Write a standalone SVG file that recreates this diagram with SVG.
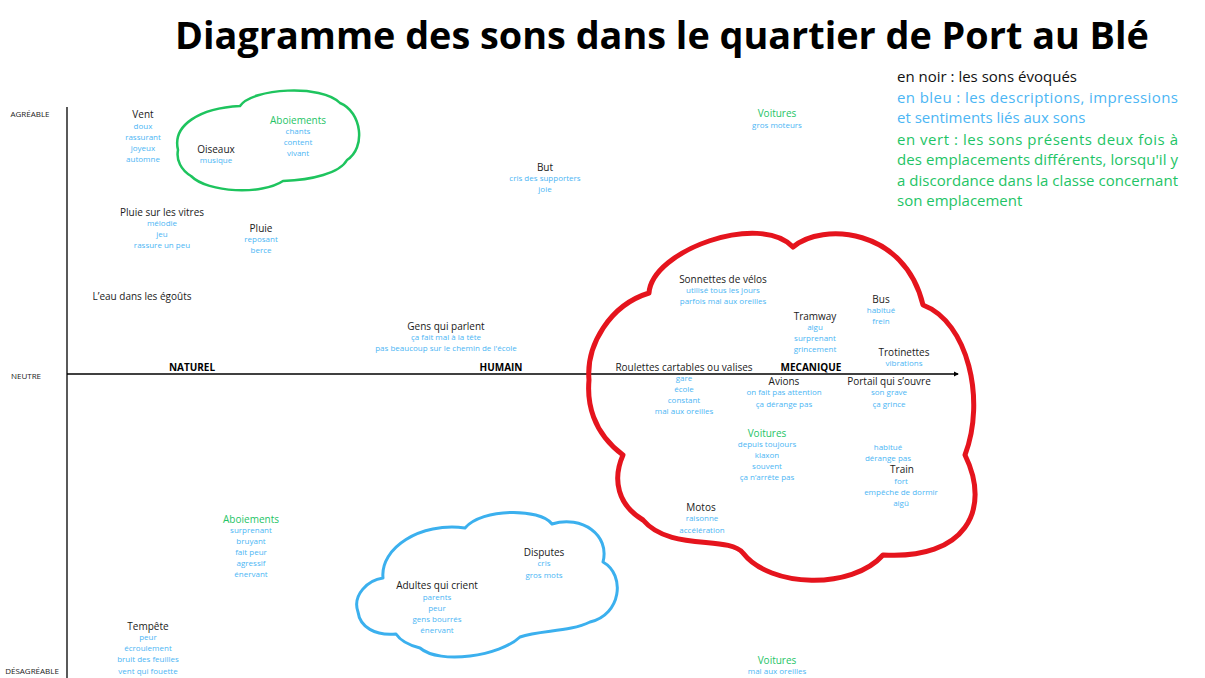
<svg xmlns="http://www.w3.org/2000/svg" width="1205" height="678" viewBox="0 0 1205 678">
<defs>
<style>
text{font-family:"Open Sans","Noto Sans","Liberation Sans",sans-serif;text-anchor:middle}
.t{font-size:37.8px;font-weight:bold;fill:#000}
.n{font-size:10px;fill:#1a1a1a}
.g{font-size:10px;fill:#1ec466}
.d{font-size:8px;fill:#4cb6f4}
.ax{font-size:8px;fill:#222}
.cl{font-size:10px;font-weight:bold;fill:#000}
.lg{font-size:15px;text-anchor:start}
.axis{stroke:#000;stroke-width:1.3;fill:none}
.cloud{fill:none;stroke-linejoin:round}
</style>
<marker id="ar" viewBox="0 0 6 6" refX="5" refY="3" markerWidth="4" markerHeight="4" orient="auto"><path d="M0,0 L6,3 L0,6 Z" fill="#000"/></marker>
</defs>
<rect width="1205" height="678" fill="#fff"/>
<text class="t" x="662" y="49">Diagramme des sons dans le quartier de Port au Blé</text>

<g id="legend">
<text class="lg" x="897" y="82" fill="#111">en noir : les sons évoqués</text>
<text class="lg" x="897" y="103" fill="#4cb6f4" textLength="281" lengthAdjust="spacing">en bleu : les descriptions, impressions</text>
<text class="lg" x="897" y="123" fill="#4cb6f4">et sentiments liés aux sons</text>
<text class="lg" x="897" y="145" fill="#1ec466" textLength="281" lengthAdjust="spacing">en vert : les sons présents deux fois à</text>
<text class="lg" x="897" y="165" fill="#1ec466" textLength="281" lengthAdjust="spacing">des emplacements différents, lorsqu'il y</text>
<text class="lg" x="897" y="186" fill="#1ec466" textLength="281" lengthAdjust="spacing">a discordance dans la classe concernant</text>
<text class="lg" x="897" y="206" fill="#1ec466">son emplacement</text>
</g>

<g id="connectors">
<line class="axis" x1="67" y1="107" x2="67" y2="678"/>
<line class="axis" x1="67" y1="374" x2="958" y2="374" marker-end="url(#ar)"/>
<path id="cloud-green" class="cloud" stroke="#1ec45e" stroke-width="2.5" d="M178,150 C172,125 200,108 240,106 C252,88 322,84 340,103 C362,112 366,148 347,160 C340,173 312,180 283,181 C262,195 208,193 191,176 C181,170 176,160 178,150 Z"/>
<path id="cloud-blue" class="cloud" stroke="#3bb0ee" stroke-width="3" d="M358,612 C352,595 368,580 383,578 C380,548 420,522 465,528 C482,508 540,508 552,524 C582,515 610,535 603,562 C626,575 621,615 590,622 C570,632 540,630 520,637 C500,656 440,665 420,648 C408,645 400,640 396,634 C375,636 360,627 358,612 Z"/>
<path id="cloud-red" class="cloud" stroke="#e5141d" stroke-width="5" d="M589,380 C586,345 610,305 649,293 C652,250 760,212 793,247 C822,222 905,228 923,305 C968,322 986,400 965,455 C992,510 965,560 883,555 C852,590 770,588 743,553 C728,535 670,552 643,520 C618,505 612,480 623,455 C592,432 587,402 589,380 Z"/>
</g>

<g id="axis-labels">
<text class="ax" x="30" y="117">AGRÉABLE</text>
<text class="ax" x="26" y="379">NEUTRE</text>
<text class="ax" x="32" y="674">DÉSAGRÉABLE</text>
<text class="cl" x="192" y="371">NATUREL</text>
<text class="cl" x="501" y="371">HUMAIN</text>
<text class="cl" x="811" y="371">MECANIQUE</text>
</g>

<g id="vent"><text class="n" x="143" y="118">Vent</text>
<text class="d" x="143" y="129">doux</text><text class="d" x="143" y="140">rassurant</text><text class="d" x="143" y="151">joyeux</text><text class="d" x="143" y="162">automne</text></g>
<g id="oiseaux"><text class="n" x="216" y="153">Oiseaux</text><text class="d" x="216" y="163">musique</text></g>
<g id="aboiements1"><text class="g" x="298" y="124">Aboiements</text>
<text class="d" x="298" y="134">chants</text><text class="d" x="298" y="145">content</text><text class="d" x="298" y="156">vivant</text></g>
<g id="pluie-vitres"><text class="n" x="162" y="216">Pluie sur les vitres</text>
<text class="d" x="162" y="226">mélodie</text><text class="d" x="162" y="237">jeu</text><text class="d" x="162" y="248">rassure un peu</text></g>
<g id="pluie"><text class="n" x="261" y="232">Pluie</text><text class="d" x="261" y="242">reposant</text><text class="d" x="261" y="253">berce</text></g>
<g id="eau"><text class="n" x="142" y="300">L’eau dans les égoûts</text></g>
<g id="but"><text class="n" x="545" y="171">But</text><text class="d" x="545" y="181">cris des supporters</text><text class="d" x="545" y="192">joie</text></g>
<g id="gens"><text class="n" x="446" y="330">Gens qui parlent</text><text class="d" x="446" y="340">ça fait mal à la tête</text><text class="d" x="446" y="351">pas beaucoup sur le chemin de l'école</text></g>
<g id="voitures-haut"><text class="g" x="777" y="117">Voitures</text><text class="d" x="777" y="128">gros moteurs</text></g>
<g id="sonnettes"><text class="n" x="723" y="283">Sonnettes de vélos</text><text class="d" x="723" y="293">utilisé tous les jours</text><text class="d" x="723" y="304">parfois mal aux oreilles</text></g>
<g id="bus"><text class="n" x="881" y="303">Bus</text><text class="d" x="881" y="313">habitué</text><text class="d" x="881" y="324">frein</text></g>
<g id="tramway"><text class="n" x="815" y="320">Tramway</text><text class="d" x="815" y="330">aigu</text><text class="d" x="815" y="341">surprenant</text><text class="d" x="815" y="352">grincement</text></g>
<g id="trotinettes"><text class="n" x="904" y="356">Trotinettes</text><text class="d" x="904" y="366">vibrations</text></g>
<g id="roulettes"><text class="n" x="684" y="371">Roulettes cartables ou valises</text>
<text class="d" x="684" y="381">gare</text><text class="d" x="684" y="392">école</text><text class="d" x="684" y="403">constant</text><text class="d" x="684" y="414">mal aux oreilles</text></g>
<g id="avions"><text class="n" x="784" y="385">Avions</text><text class="d" x="784" y="395">on fait pas attention</text><text class="d" x="784" y="407">ça dérange pas</text></g>
<g id="portail"><text class="n" x="889" y="385">Portail qui s’ouvre</text><text class="d" x="889" y="395">son grave</text><text class="d" x="889" y="407">ça grince</text></g>
<g id="voitures-milieu"><text class="g" x="767" y="437">Voitures</text>
<text class="d" x="767" y="447">depuis toujours</text><text class="d" x="767" y="458">klaxon</text><text class="d" x="767" y="469">souvent</text><text class="d" x="767" y="480">ça n’arrête pas</text></g>
<g id="train"><text class="d" x="888" y="450">habitué</text><text class="d" x="888" y="461">dérange pas</text>
<text class="n" x="902" y="473">Train</text>
<text class="d" x="901" y="484">fort</text><text class="d" x="901" y="495">empêche de dormir</text><text class="d" x="901" y="506">aigü</text></g>
<g id="motos"><text class="n" x="701" y="511">Motos</text><text class="d" x="702" y="521">raisonne</text><text class="d" x="702" y="533">accélération</text></g>
<g id="aboiements2"><text class="g" x="251" y="523">Aboiements</text>
<text class="d" x="251" y="533">surprenant</text><text class="d" x="251" y="544">bruyant</text><text class="d" x="251" y="555">fait peur</text><text class="d" x="251" y="566">agressif</text><text class="d" x="251" y="577">énervant</text></g>
<g id="tempete"><text class="n" x="148" y="630">Tempête</text>
<text class="d" x="148" y="640">peur</text><text class="d" x="148" y="651">écroulement</text><text class="d" x="148" y="662">bruit des feuilles</text><text class="d" x="148" y="674">vent qui fouette</text></g>
<g id="disputes"><text class="n" x="544" y="556">Disputes</text><text class="d" x="544" y="566">cris</text><text class="d" x="544" y="578">gros mots</text></g>
<g id="adultes"><text class="n" x="437" y="589">Adultes qui crient</text>
<text class="d" x="437" y="600">parents</text><text class="d" x="437" y="611">peur</text><text class="d" x="437" y="622">gens bourrés</text><text class="d" x="437" y="633">énervant</text></g>
<g id="voitures-bas"><text class="g" x="777" y="664">Voitures</text><text class="d" x="777" y="674">mal aux oreilles</text></g>
</svg>
